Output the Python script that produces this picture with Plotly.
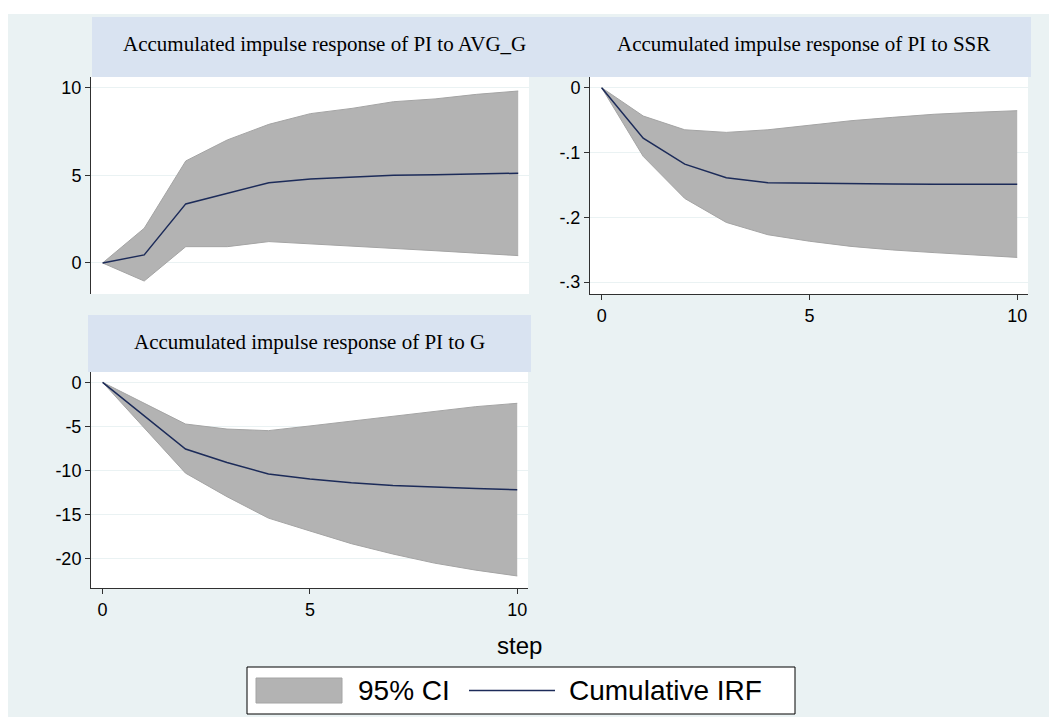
import plotly.graph_objects as go

# ---------------- data ----------------
steps = [0, 1, 2, 3, 4, 5, 6, 7, 8, 9, 10]

avg_g_irf = [0, 0.46, 3.37, 3.98, 4.58, 4.79, 4.88, 5.00, 5.04, 5.08, 5.12]
avg_g_lo = [0, -1.03, 0.93, 0.93, 1.22, 1.10, 0.98, 0.84, 0.70, 0.56, 0.42]
avg_g_hi = [0, 1.98, 5.82, 7.02, 7.91, 8.52, 8.82, 9.20, 9.36, 9.62, 9.81]

ssr_irf = [0, -0.078, -0.118, -0.139, -0.1466, -0.1475, -0.148, -0.1485, -0.149, -0.149, -0.149]
ssr_lo = [0, -0.106, -0.171, -0.208, -0.227, -0.237, -0.245, -0.2505, -0.2546, -0.258, -0.262]
ssr_hi = [0, -0.0437, -0.065, -0.069, -0.065, -0.0576, -0.051, -0.0458, -0.041, -0.038, -0.0355]

g_irf = [0, -3.79, -7.56, -9.10, -10.40, -10.96, -11.40, -11.70, -11.90, -12.05, -12.17]
g_lo = [0, -5.16, -10.30, -12.97, -15.40, -16.86, -18.30, -19.47, -20.50, -21.30, -21.96]
g_hi = [0, -2.37, -4.73, -5.30, -5.48, -4.95, -4.39, -3.82, -3.25, -2.76, -2.38]

titles = ["Accumulated impulse response of PI to AVG_G",
          "Accumulated impulse response of PI to SSR",
          "Accumulated impulse response of PI to G"]

yticks1 = [0, 5, 10]
yticktext1 = ["0", "5", "10"]
yticks2 = [0, -0.1, -0.2, -0.3]
yticktext2 = ["0", "-.1", "-.2", "-.3"]
yticks3 = [0, -5, -10, -15, -20]
yticktext3 = ["0", "-5", "-10", "-15", "-20"]
xticks = [0, 5, 10]
xticktext = ["0", "5", "10"]

legend_labels = ["95% CI", "Cumulative IRF"]
xlabel = "step"

# ---------------- styling ----------------
W, H = 1049, 717
BG = "#EAF2F3"
BAND = "#D9E3F1"
FILL = "#B3B3B3"
FILL_EDGE = "#A4A4A4"
NAVY = "#1C2B59"
AXIS = "#303030"
SANS = "Liberation Sans, Arial, sans-serif"
SERIF = "Liberation Serif, Times New Roman, serif"


def px(x):
    return x / W


def py(y):
    return 1 - y / H


fig = go.Figure()

panels = [
    (avg_g_lo, avg_g_hi, avg_g_irf, "x", "y"),
    (ssr_lo, ssr_hi, ssr_irf, "x2", "y2"),
    (g_lo, g_hi, g_irf, "x3", "y3"),
]
for lo, hi, irf, xa, ya in panels:
    fig.add_trace(go.Scatter(x=steps, y=lo, mode="lines", xaxis=xa, yaxis=ya,
                             line=dict(color=FILL_EDGE, width=1),
                             showlegend=False, hoverinfo="skip"))
    fig.add_trace(go.Scatter(x=steps, y=hi, mode="lines", xaxis=xa, yaxis=ya,
                             fill="tonexty", fillcolor=FILL,
                             line=dict(color=FILL_EDGE, width=1),
                             showlegend=False, hoverinfo="skip"))
    fig.add_trace(go.Scatter(x=steps, y=irf, mode="lines", xaxis=xa, yaxis=ya,
                             line=dict(color=NAVY, width=1.5),
                             showlegend=False))

# panel pixel boxes: (x0, x1, y0, y1)
P1 = (91, 529, 77, 294)
P2 = (590, 1028, 77, 294)
P3 = (91, 528, 372, 588.3)

tickfont = dict(family=SANS, size=18, color="#000000")


def yax(box, rng, vals, text):
    return dict(domain=[py(box[3]), py(box[2])], range=rng, tickmode="array",
                tickvals=vals, ticktext=text, ticks="outside", ticklen=5,
                tickcolor=AXIS, tickwidth=1, showline=True, linecolor=AXIS,
                linewidth=1, showgrid=True, gridcolor=BG, gridwidth=1,
                zeroline=False, tickfont=tickfont, fixedrange=True)


def xax(box, rng, visible=True):
    d = dict(domain=[px(box[0]), px(box[1])], range=rng, showgrid=False,
             zeroline=False, fixedrange=True)
    if visible:
        d.update(tickmode="array", tickvals=xticks, ticktext=xticktext,
                 ticks="outside", ticklen=5, tickcolor=AXIS, tickwidth=1,
                 showline=True, linecolor=AXIS, linewidth=1, tickfont=tickfont)
    else:
        d.update(showticklabels=False, ticks="", showline=False)
    return d


xr = [-0.28, 10.26]
fig.update_layout(
    xaxis=dict(xax(P1, xr, visible=False), anchor="y"),
    yaxis=dict(yax(P1, [-1.77, 10.61], yticks1, yticktext1), anchor="x"),
    xaxis2=dict(xax(P2, xr), anchor="y2"),
    yaxis2=dict(yax(P2, [-0.3185, 0.0165], yticks2, yticktext2), anchor="x2"),
    xaxis3=dict(xax(P3, xr), anchor="y3"),
    yaxis3=dict(yax(P3, [-23.36, 1.17], yticks3, yticktext3), anchor="x3"),
)

shapes = []
# graph region background
shapes.append(dict(type="rect", xref="paper", yref="paper", x0=px(8), x1=px(W),
                   y0=py(H), y1=py(14), fillcolor=BG, line=dict(width=0), layer="below"))
# title bands
shapes.append(dict(type="rect", xref="paper", yref="paper", x0=px(92), x1=px(1031),
                   y0=py(77), y1=py(17), fillcolor=BAND, line=dict(width=0), layer="below"))
shapes.append(dict(type="rect", xref="paper", yref="paper", x0=px(88), x1=px(531),
                   y0=py(372), y1=py(315), fillcolor=BAND, line=dict(width=0), layer="below"))
# white plot areas
for b in (P1, P2, P3):
    shapes.append(dict(type="rect", xref="paper", yref="paper", x0=px(b[0]), x1=px(b[1]),
                       y0=py(b[3]), y1=py(b[2]), fillcolor="#FFFFFF", line=dict(width=0),
                       layer="below"))
# legend box
shapes.append(dict(type="rect", xref="paper", yref="paper", x0=px(247), x1=px(795),
                   y0=py(714), y1=py(667), fillcolor="#FFFFFF",
                   line=dict(color="#000000", width=1), layer="above"))
shapes.append(dict(type="rect", xref="paper", yref="paper", x0=px(256), x1=px(342),
                   y0=py(703), y1=py(678), fillcolor=FILL,
                   line=dict(color=FILL_EDGE, width=1), layer="above"))
shapes.append(dict(type="line", xref="paper", yref="paper", x0=px(469), x1=px(555),
                   y0=py(690.5), y1=py(690.5), line=dict(color=NAVY, width=1.5), layer="above"))

annotations = []
for text, cx, cy in [(titles[0], 324, 44), (titles[1], 803, 44), (titles[2], 310, 342)]:
    annotations.append(dict(text=text, x=px(cx), y=py(cy), xref="paper", yref="paper",
                            xanchor="center", yanchor="middle", showarrow=False,
                            font=dict(family=SERIF, size=21, color="#000000")))
annotations.append(dict(text=xlabel, x=px(519), y=py(645), xref="paper", yref="paper",
                        xanchor="center", yanchor="middle", showarrow=False,
                        font=dict(family=SANS, size=24, color="#000000")))
annotations.append(dict(text=legend_labels[0], x=px(356), y=py(690.5), xref="paper",
                        yref="paper", xanchor="left", yanchor="middle", showarrow=False,
                        font=dict(family=SANS, size=28, color="#000000")))
annotations.append(dict(text=legend_labels[1], x=px(567), y=py(690.5), xref="paper",
                        yref="paper", xanchor="left", yanchor="middle", showarrow=False,
                        font=dict(family=SANS, size=28, color="#000000")))

fig.update_layout(
    width=W, height=H, margin=dict(l=0, r=0, t=0, b=0),
    paper_bgcolor="#FFFFFF", plot_bgcolor="rgba(0,0,0,0)",
    shapes=shapes, annotations=annotations, showlegend=False,
)

fig.write_html("out.html", config={"displayModeBar": False})
